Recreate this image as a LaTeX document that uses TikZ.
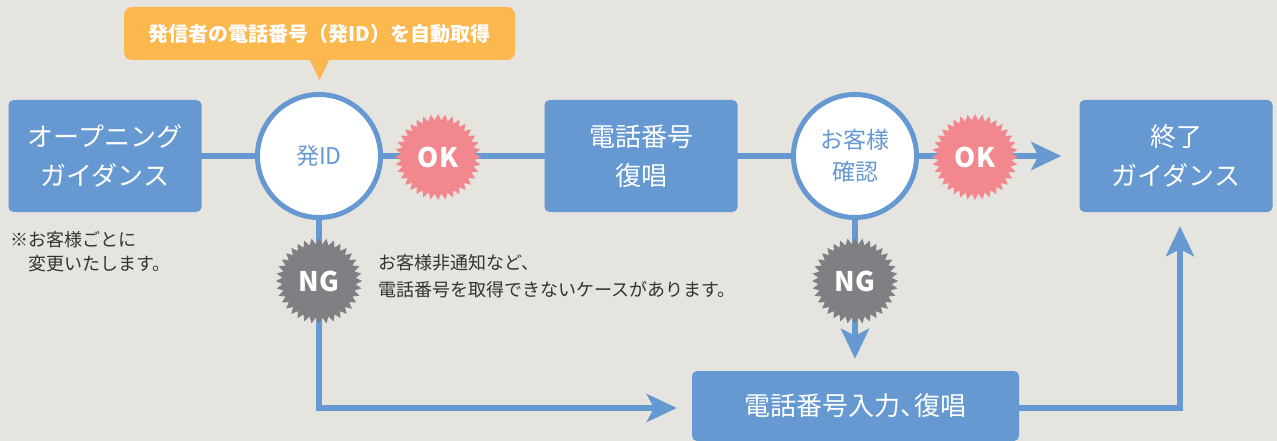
\documentclass[tikz,border=0pt]{standalone}
\usepackage{fontspec}
\setmainfont{Noto Sans CJK JP}
\usetikzlibrary{shapes.geometric,arrows.meta}
\definecolor{bgc}{HTML}{E5E4DE}
\definecolor{blu}{HTML}{6699D2}
\definecolor{org}{HTML}{FBB84F}
\definecolor{pnk}{HTML}{F2878E}
\definecolor{gry}{HTML}{7F7F84}
\definecolor{txt}{HTML}{333333}
\pgfdeclarelayer{bgl}\pgfdeclarelayer{lines}\pgfsetlayers{bgl,lines,main}
\begin{document}
\begin{tikzpicture}[x=1pt,y=-1pt,
 box/.style={fill=blu, rounded corners=5pt, text=white, minimum width=193pt, minimum height=112pt, align=center, font=\fontsize{26}{39}\selectfont, inner sep=0pt},
 circ/.style={circle, draw=blu, line width=5pt, fill=white, minimum size=123pt, inner sep=0pt, text=blu, align=center, font=\fontsize{23}{32}\selectfont},
 burst/.style={star, star points=36, star point ratio=1.17, minimum size=86pt, inner sep=0pt, text=white, font=\fontsize{27}{27}\selectfont\bfseries},
 conn/.style={draw=blu, line width=5.5pt},
 arr/.style={-{Stealth[length=30pt,width=28pt,inset=7pt]}},
 note/.style={text=txt, align=left, anchor=north west, inner sep=0pt}
]
\begin{pgfonlayer}{bgl}
\fill[bgc] (0,0) rectangle (1277,441);
\end{pgfonlayer}
\useasboundingbox (0,0) rectangle (1277,441);

\node[box] (open) at (105,156) {オープニング\\ガイダンス};
\node[circ] (c1) at (319,156) {発ID};
\node[burst, fill=pnk] (ok1) at (438,157) {OK};
\node[box] (tel) at (641,156) {電話番号\\復唱};
\node[circ] (c2) at (855,156) {お客様\\確認};
\node[burst, fill=pnk] (ok2) at (975,157) {OK};
\node[box] (fin) at (1176,156) {終了\\ガイダンス};
\node[burst, fill=gry] (ng1) at (319,281) {NG};
\node[burst, fill=gry] (ng2) at (855,281) {NG};
\node[box, minimum width=327pt, minimum height=70pt] (inp) at (855.5,406) {電話番号入力、\hspace{-0.45em}復唱};

\node[fill=org, rounded corners=8pt, minimum width=391pt, minimum height=53pt, inner sep=0pt, text=white, font=\fontsize{20}{20}\selectfont\bfseries] (call) at (319.5,33.5) {発信者の電話番号（発ID）を自動取得};
\fill[org] ([xshift=-10pt,yshift=1pt]call.south) -- ([xshift=10pt,yshift=1pt]call.south) -- ([yshift=-20pt]call.south) -- cycle;

\node[note, font=\fontsize{18}{24}\selectfont] (n1) at (10,231) {※お客様ごとに\\\hspace*{1em}変更いたします。};
\node[note, font=\fontsize{18}{27}\selectfont] (n2) at (378,254) {お客様非通知など、\\電話番号を取得できないケースがあります。};

\begin{pgfonlayer}{lines}
\draw[conn] (open.center) -- (c1.center) -- (ok1.center |- c1.center) -- (tel.center) -- (c2.center) -- (ok2.center |- c2.center);
\draw[conn, arr, shorten >=18pt] (ok2.center |- c2.center) -- (fin.west);
\draw[conn, arr, shorten >=15pt] (c1.center) |- ([yshift=-2pt]inp.west);
\draw[conn, arr, shorten >=12pt] (c2.center) -- (ng2.center) -- (c2.center |- inp.north);
\draw[conn, arr, shorten >=14pt] ([yshift=-2pt]inp.east) -| ([xshift=4pt]fin.south);
\end{pgfonlayer}
\end{tikzpicture}
\end{document}
